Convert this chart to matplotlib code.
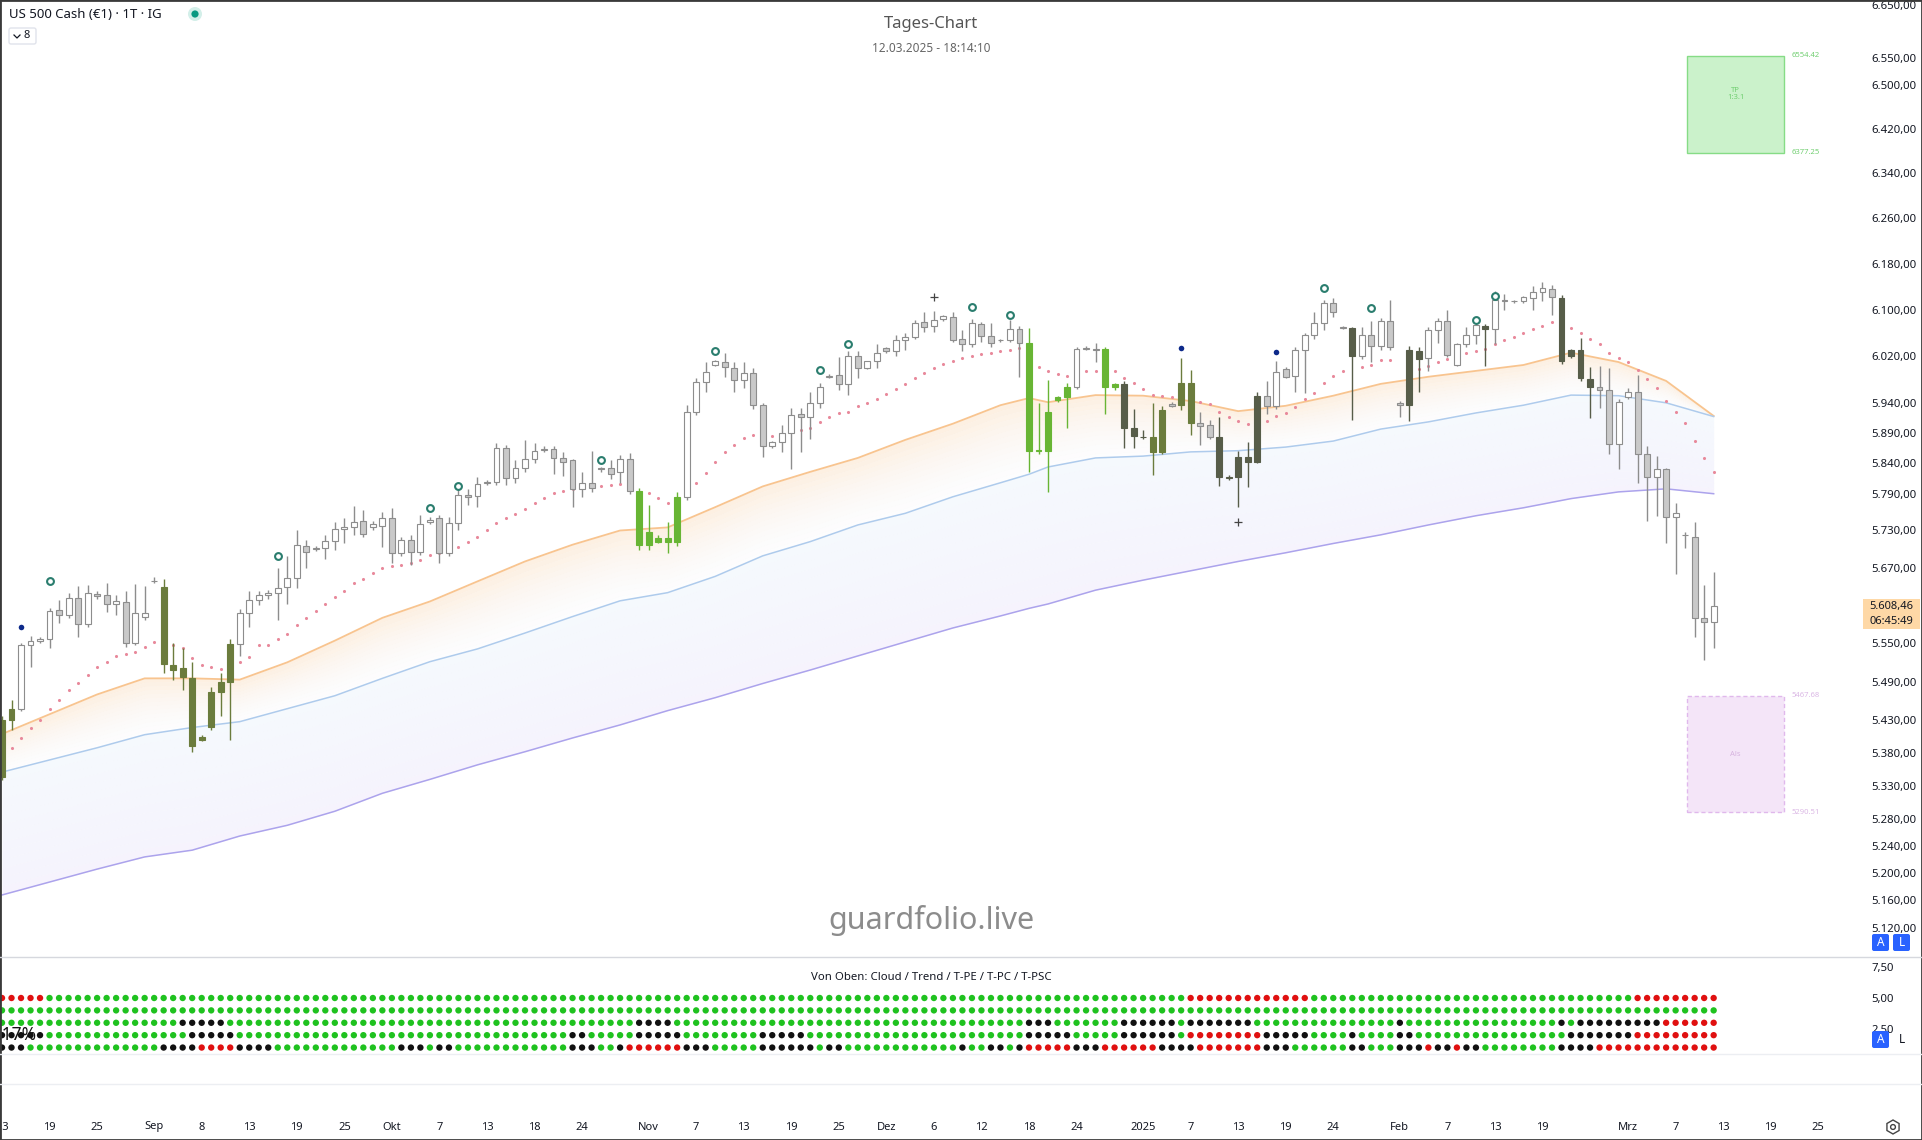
import numpy as np
import pandas as pd
import matplotlib
matplotlib.use('Agg')
import matplotlib.pyplot as plt
from matplotlib.patches import Rectangle, FancyBboxPatch, RegularPolygon, Circle
from matplotlib.lines import Line2D
from matplotlib.ticker import FixedLocator, NullLocator, FuncFormatter, NullFormatter
from matplotlib.transforms import IdentityTransform

plt.rcParams['font.family'] = ['Noto Sans', 'DejaVu Sans']

W, H = 1922, 1140

# --- daily candles, 13.08.2024 .. 12.03.2025 (bars Sun-Fri) ---
opens = [5344, 5430, 5447, 5547, 5553, 5556, 5603, 5595, 5621, 5581,
         5628, 5627, 5612, 5615, 5550, 5592, 5648, 5639, 5516, 5511,
         5496, 5400, 5420, 5474, 5489, 5548, 5598, 5619, 5627, 5629,
         5639, 5653, 5705, 5700, 5702, 5713, 5732, 5735, 5745, 5735,
         5737, 5750, 5694, 5715, 5696, 5744, 5750, 5694, 5742, 5788,
         5786, 5808, 5810, 5866, 5816, 5833, 5848, 5862, 5864, 5849,
         5845, 5797, 5808, 5832, 5833, 5825, 5848, 5795, 5707, 5718,
         5718, 5712, 5785, 5925, 5976, 6005, 6010, 6000, 5980, 5992,
         5937, 5868, 5875, 5891, 5922, 5917, 5941, 5985, 5988, 5973,
         6021, 6000, 6011, 6034, 6028, 6048, 6053, 6079, 6071, 6083,
         6088, 6050, 6040, 6075, 6055, 6048, 6048, 6066, 6043, 5862,
         5861, 5945, 5951, 5968, 6033, 6033, 6033, 5968, 5973, 5899,
         5883, 5883, 5858, 5939, 5937, 5975, 5907, 5904, 5884, 5818,
         5818, 5851, 5843, 5953, 5935, 5998, 5987, 6031, 6057, 6077,
         6112, 6070, 6069, 6020, 6057, 6038, 6081, 5940, 5938, 6015,
         6017, 6064, 6080, 6005, 6040, 6057, 6072, 6066, 6116, 6115,
         6114, 6120, 6130, 6135, 6120, 6030, 6031, 5982, 5968, 5962,
         5872, 5951, 5960, 5855, 5818, 5831, 5752, 5722, 5719, 5590,
         5584]
highs = [5437, 5462, 5550, 5561, 5560, 5606, 5619, 5630, 5641, 5643,
         5632, 5645, 5627, 5632, 5644, 5640, 5655, 5652, 5550, 5543,
         5521, 5407, 5481, 5504, 5557, 5604, 5632, 5633, 5635, 5669,
         5688, 5731, 5715, 5705, 5723, 5744, 5750, 5770, 5763, 5745,
         5760, 5767, 5720, 5723, 5755, 5752, 5755, 5752, 5797, 5797,
         5818, 5812, 5874, 5871, 5846, 5879, 5874, 5868, 5869, 5858,
         5848, 5826, 5861, 5834, 5846, 5854, 5857, 5800, 5771, 5722,
         5744, 5793, 5937, 5983, 6010, 6014, 6026, 6010, 6010, 6000,
         5941, 5877, 5903, 5933, 5933, 5960, 5975, 5990, 6019, 6028,
         6028, 6012, 6040, 6036, 6056, 6060, 6082, 6095, 6098, 6090,
         6095, 6065, 6084, 6079, 6077, 6050, 6082, 6072, 6068, 5940,
         5980, 5953, 5975, 6035, 6037, 6043, 6036, 5975, 5977, 5930,
         5895, 5941, 5935, 5942, 6017, 5997, 5925, 5912, 5917, 5820,
         5860, 5876, 5960, 5977, 6012, 6001, 6035, 6060, 6095, 6117,
         6120, 6072, 6070, 6070, 6081, 6085, 6117, 5944, 6038, 6036,
         6070, 6085, 6100, 6043, 6070, 6077, 6075, 6133, 6127, 6117,
         6124, 6140, 6147, 6142, 6125, 6033, 6051, 6002, 6003, 6000,
         5947, 5966, 5988, 5869, 5853, 5833, 5775, 5728, 5744, 5643,
         5663]
lows = [5339, 5415, 5444, 5512, 5550, 5543, 5582, 5590, 5560, 5575,
        5620, 5600, 5595, 5544, 5547, 5587, 5645, 5504, 5493, 5477,
        5382, 5398, 5415, 5436, 5400, 5530, 5576, 5610, 5620, 5587,
        5612, 5637, 5670, 5697, 5684, 5699, 5710, 5722, 5720, 5730,
        5703, 5678, 5688, 5675, 5690, 5740, 5678, 5688, 5730, 5772,
        5768, 5805, 5805, 5805, 5808, 5826, 5840, 5858, 5822, 5819,
        5768, 5785, 5793, 5826, 5815, 5808, 5790, 5699, 5699, 5710,
        5694, 5705, 5780, 5920, 5960, 6003, 5985, 5960, 5966, 5930,
        5851, 5866, 5859, 5830, 5858, 5880, 5933, 5983, 5962, 5955,
        5983, 5998, 6000, 6026, 6020, 6031, 6050, 6061, 6061, 6081,
        6045, 6028, 6035, 6044, 6035, 6045, 6045, 5985, 5826, 5855,
        5793, 5943, 5898, 5965, 6030, 6010, 5922, 5962, 5865, 5865,
        5880, 5821, 5855, 5934, 5929, 5887, 5870, 5880, 5802, 5813,
        5768, 5801, 5840, 5922, 5930, 5983, 5960, 5958, 6050, 6065,
        6088, 6067, 5912, 6015, 6010, 6030, 6030, 5917, 5910, 5960,
        5995, 6043, 6018, 6003, 6035, 6040, 6004, 6040, 6100, 6112,
        6112, 6100, 6114, 6090, 6006, 6017, 5978, 5915, 5932, 5856,
        5830, 5948, 5807, 5745, 5753, 5710, 5660, 5702, 5560, 5524,
        5543]
closes = [5431, 5447, 5547, 5553, 5556, 5601, 5595, 5621, 5581, 5630,
          5625, 5612, 5617, 5550, 5597, 5597, 5649, 5518, 5508, 5497,
          5391, 5404, 5474, 5489, 5548, 5598, 5619, 5627, 5629, 5638,
          5653, 5707, 5696, 5702, 5713, 5732, 5735, 5744, 5725, 5740,
          5750, 5694, 5715, 5696, 5741, 5747, 5694, 5742, 5788, 5785,
          5806, 5810, 5866, 5816, 5833, 5848, 5861, 5864, 5849, 5843,
          5797, 5808, 5800, 5830, 5823, 5848, 5795, 5707, 5727, 5712,
          5712, 5785, 5925, 5976, 5993, 6012, 6002, 5980, 5992, 5937,
          5868, 5875, 5891, 5921, 5917, 5941, 5968, 5987, 5973, 6021,
          6000, 6011, 6026, 6028, 6048, 6053, 6077, 6070, 6082, 6089,
          6048, 6040, 6077, 6055, 6043, 6047, 6067, 6043, 5861, 5860,
          5925, 5950, 5968, 6033, 6034, 6031, 5968, 5973, 5899, 5885,
          5884, 5858, 5929, 5936, 5975, 5907, 5902, 5884, 5818, 5816,
          5851, 5843, 5953, 5935, 5993, 5985, 6031, 6057, 6077, 6112,
          6095, 6069, 6020, 6057, 6038, 6081, 6035, 5938, 6030, 6029,
          6064, 6080, 6022, 6040, 6057, 6073, 6066, 6117, 6114, 6114,
          6121, 6130, 6137, 6121, 6011, 6021, 5983, 5968, 5963, 5872,
          5943, 5960, 5855, 5817, 5830, 5752, 5759, 5723, 5590, 5584,
          5608.46]

# bar colouring of the indicator: n = normal (hollow up / grey down)
candle_color_runs = [('o', 2), ('n', 15), ('o', 8), ('n', 42), ('G', 5), ('n', 36),
                     ('G', 5), ('n', 3), ('G', 2), ('d', 3), ('o', 2), ('n', 1),
                     ('o', 2), ('n', 2), ('d', 5), ('n', 9), ('d', 1), ('n', 5),
                     ('d', 2), ('n', 6), ('d', 1), ('n', 7), ('d', 4), ('n', 13)]

# moving averages, read at these bars
ema_idx = [0, 10, 15, 20, 25, 30, 35, 40, 45, 50, 55, 60, 65, 70, 75, 80, 85, 90, 95, 100,
           105, 108, 110, 115, 120, 125, 130, 135, 140, 145, 150, 155, 160, 165, 170, 175, 180]
ema_fast = [5409, 5470, 5495, 5495, 5493, 5520, 5554, 5590, 5616, 5648, 5680, 5707, 5730, 5735,
            5768, 5802, 5826, 5849, 5879, 5906, 5937, 5949, 5942, 5954, 5953, 5944, 5927, 5936,
            5953, 5973, 5985, 5995, 6005, 6026, 6010, 5978, 5919]
ema_mid = [5351, 5388, 5408, 5419, 5428, 5448, 5468, 5495, 5521, 5541, 5566, 5592, 5617, 5630,
           5656, 5689, 5712, 5739, 5758, 5785, 5808, 5822, 5834, 5849, 5852, 5859, 5861, 5867,
           5877, 5897, 5909, 5924, 5937, 5954, 5953, 5941, 5918]
ema_slow = [5168, 5206, 5224, 5234, 5255, 5271, 5292, 5319, 5340, 5362, 5382, 5403, 5423, 5445,
            5465, 5487, 5508, 5530, 5552, 5574, 5593, 5605, 5612, 5634, 5650, 5665, 5680, 5694,
            5709, 5723, 5739, 5754, 5767, 5782, 5793, 5798, 5790]

# trailing stop dots
sar_idx = [1, 2, 3, 4, 5, 6, 7, 8, 9, 10, 11, 12, 13, 14, 15, 16,
           18, 19, 20, 21, 22, 23,
           25, 26, 27, 28, 29, 30, 31, 32, 33, 34, 35, 36, 37, 38, 39, 40, 41, 42, 43, 44, 45,
           46, 47, 48, 49, 50, 51, 52, 53, 54, 55, 56, 57, 58, 59, 60, 61, 62, 63, 64, 65, 66,
           68, 69, 70,
           73, 74, 75, 76, 77, 78, 79, 80, 81, 82, 83, 84, 85, 86, 87, 88, 89, 90, 91, 92, 93,
           94, 95, 96, 97, 98, 99, 100, 101, 102, 103, 104, 105, 106, 107,
           109, 110, 111, 112, 114, 115,
           117, 118, 119, 120, 121, 122, 123, 126, 127, 128, 129, 130, 131,
           133, 134, 135, 136, 137, 138, 139, 140, 141, 143, 144, 145, 146,
           148, 149, 150, 151, 152, 153, 154, 155, 156, 157, 158, 159, 160, 161, 162, 163,
           165, 166, 167, 168, 169, 170, 171, 172, 173, 174, 175, 176, 177, 178, 179, 180]
sar_val = [5388, 5403, 5418, 5431, 5448, 5462, 5477, 5487, 5501, 5512, 5521, 5530, 5533, 5536, 5544, 5552,
           5547, 5542, 5527, 5516, 5512, 5510,
           5521, 5529, 5547, 5547, 5557, 5565, 5579, 5590, 5601, 5612, 5623, 5632, 5645, 5652, 5661,
           5669, 5672, 5675, 5677, 5683, 5690,
           5694, 5697, 5704, 5712, 5720, 5730, 5742, 5750, 5757, 5765, 5775, 5783, 5791, 5794, 5797,
           5801, 5802, 5803, 5804, 5806, 5808,
           5791, 5783, 5775,
           5808, 5824, 5842, 5859, 5870, 5882, 5887, 5884, 5885, 5889, 5892, 5896, 5899, 5909, 5917,
           5924, 5925, 5935, 5941, 5948, 5956,
           5964, 5973, 5983, 5992, 6000, 6007, 6012, 6017, 6021, 6024, 6026, 6028, 6031, 6034,
           6002, 5994, 5990, 5987, 5995, 5995,
           5994, 5983, 5975, 5964, 5954, 5953, 5951, 5943, 5939, 5926, 5918, 5911, 5906,
           5911, 5919, 5924, 5934, 5948, 5958, 5975, 5987, 5995, 6002, 6005, 6014, 6014,
           5993, 5998, 6004, 6010, 6015, 6020, 6026, 6029, 6033, 6040, 6047, 6052, 6059, 6066, 6072, 6079,
           6068, 6059, 6050, 6041, 6026, 6017, 6010, 5997, 5982, 5966, 5944, 5926, 5907, 5877, 5849, 5826]

ring_idx = [5, 29, 45, 48, 63, 75, 86, 89, 102, 106, 139, 144, 155, 157]
ring_val = [5648, 5688, 5767, 5803, 5846, 6029, 5997, 6041, 6105, 6091, 6138, 6102, 6082, 6124]
blue_idx = [2, 124, 134]
blue_val = [5576, 6034, 6027]
cross_idx = [98, 130]
cross_val = [6121, 5744]

tp_levels = (6377.25, 6554.42)
sl_levels = (5290.51, 5467.68)

price_ticks = [6650, 6550, 6500, 6420, 6340, 6260, 6180, 6100, 6020, 5940, 5890, 5840, 5790,
               5730, 5670, 5550, 5490, 5430, 5380, 5330, 5280, 5240, 5200, 5160, 5120]

# indicator rows (top to bottom): Cloud / Trend / T-PE / T-PC / T-PSC
cloud_runs = [('r', 5), ('g', 120), ('r', 13), ('g', 34), ('r', 9)]
trend_runs = [('g', 181)]
tpe_runs = [('g', 19), ('k', 5), ('g', 43), ('k', 4), ('g', 37), ('k', 3), ('g', 7), ('k', 6),
            ('g', 1), ('k', 7), ('g', 15), ('k', 1), ('g', 16), ('k', 1), ('g', 1), ('k', 9), ('r', 6)]
tpc_runs = [('k', 5), ('g', 15), ('k', 5), ('g', 35), ('k', 2), ('g', 5), ('k', 5), ('g', 8),
            ('k', 5), ('g', 23), ('k', 5), ('g', 5), ('k', 6), ('g', 1), ('r', 8), ('k', 5),
            ('g', 4), ('k', 1), ('g', 4), ('k', 2), ('g', 16), ('k', 7), ('r', 9)]
tpsc_runs = [('k', 3), ('g', 14), ('k', 4), ('r', 4), ('k', 4), ('g', 13), ('k', 3), ('g', 1),
             ('k', 2), ('g', 12), ('k', 3), ('g', 2), ('k', 1), ('r', 6), ('k', 3), ('g', 5),
             ('k', 6), ('g', 1), ('k', 2), ('g', 12), ('k', 1), ('g', 2), ('k', 2), ('g', 1),
             ('k', 1), ('r', 5), ('k', 3), ('r', 6), ('k', 4), ('r', 7), ('k', 3), ('g', 6),
             ('k', 2), ('g', 3), ('k', 3), ('r', 1), ('k', 2), ('r', 1), ('k', 2), ('g', 8),
             ('k', 4), ('r', 13)]

tick_dates = ['2024-08-13', '2024-08-19', '2024-08-25', '2024-09-02', '2024-09-08', '2024-09-13',
              '2024-09-19', '2024-09-25', '2024-10-01', '2024-10-07', '2024-10-13', '2024-10-18',
              '2024-10-24', '2024-11-01', '2024-11-07', '2024-11-13', '2024-11-19', '2024-11-25',
              '2024-12-01', '2024-12-06', '2024-12-12', '2024-12-18', '2024-12-24', '2025-01-01',
              '2025-01-07', '2025-01-13', '2025-01-19', '2025-01-24', '2025-02-02', '2025-02-07',
              '2025-02-13', '2025-02-19', '2025-03-02', '2025-03-07', '2025-03-13', '2025-03-19',
              '2025-03-25']
tick_labels = ['13', '19', '25', 'Sep', '8', '13', '19', '25', 'Okt', '7', '13', '18', '24', 'Nov',
               '7', '13', '19', '25', 'Dez', '6', '12', '18', '24', '2025', '7', '13', '19', '24',
               'Feb', '7', '13', '19', 'Mrz', '7', '13', '19', '25']


def expand(runs):
    return ''.join(c * n for c, n in runs)


def de_fmt(v):
    s = f"{v:,.2f}"
    return s.replace(',', 'X').replace('.', ',').replace('X', '.')


def fx(px):
    return px / W


def fy(py):
    return 1 - py / H


def gradient_band(axis, x, upper, lower, color_top, color_bottom, a_top, a_bottom, steps=14):
    # soft band between two lines, shaded from the upper line down
    up = np.array(upper, float)
    lo = np.array(lower, float)
    ct = np.array(matplotlib.colors.to_rgb(color_top))
    cb = np.array(matplotlib.colors.to_rgb(color_bottom))
    for k in range(steps):
        t0, t1 = k / steps, (k + 1) / steps
        tm = (t0 + t1) / 2
        axis.fill_between(x, up + (lo - up) * t0, up + (lo - up) * t1,
                          color=ct + (cb - ct) * tm, alpha=a_top + (a_bottom - a_top) * tm,
                          lw=0, zorder=1)


# bars of the chart: every day except Saturday, 01.09.2024 missing
days = pd.date_range('2024-08-13', '2025-03-31')
days = days[(days.dayofweek != 5) & (days != pd.Timestamp('2024-09-01'))]
n = len(opens)
xs = np.arange(n)
xlim = (-0.21, 195.6)

fig = plt.figure(figsize=(W / 100, H / 100), dpi=100)
fig.patch.set_facecolor('white')

# --- main price pane ---
ax = fig.add_axes([0, fy(957), 1862 / W, 957 / H])
ax.set_yscale('log')
ax.set_ylim(5078, 6659)
ax.set_xlim(*xlim)

gradient_band(ax, ema_idx, ema_fast, ema_mid, '#fbdcbc', '#f3f6fc', 0.45, 0.15)
gradient_band(ax, ema_idx, ema_mid, ema_slow, '#e4eefb', '#ebe6fb', 0.35, 0.45)
ax.plot(ema_idx, ema_fast, color='#f8c48f', lw=1.3, zorder=2)
ax.plot(ema_idx, ema_mid, color='#aecbec', lw=1.1, zorder=2)
ax.plot(ema_idx, ema_slow, color='#aca3ec', lw=1.1, zorder=2)

ax.scatter(sar_idx, sar_val, s=5, color='#e8899b', lw=0, zorder=2.5)

special = {'o': '#6b7c3d', 'G': '#68b534', 'd': '#575d49'}
codes = expand(candle_color_runs)
for i in range(n):
    o, h, l, c = opens[i], highs[i], lows[i], closes[i]
    code = codes[i]
    if code == 'n':
        face = '#ffffff' if c >= o else '#c9c9c9'
        edge = '#8d8d8d'
    else:
        face = special[code]
        edge = special[code]
    ax.vlines(i, l, h, color=edge, lw=1, zorder=3)
    ax.bar(i, max(abs(c - o), 0.6), bottom=min(o, c), width=0.62, color=face,
           edgecolor=edge, lw=0.8, zorder=4)

ax.scatter(ring_idx, ring_val, s=24, facecolors='white', edgecolors='#2a7d6e', linewidths=1.5, zorder=5)
ax.scatter(blue_idx, blue_val, s=16, color='#0d2a8a', lw=0, zorder=5)
ax.scatter(cross_idx, cross_val, s=30, marker='+', color='#444444', lw=0.9, zorder=5)

# TP / SL boxes
bx0, bx1 = 177.2, 187.4
ax.add_patch(Rectangle((bx0, tp_levels[0]), bx1 - bx0, tp_levels[1] - tp_levels[0],
                       facecolor='#cbf2cb', edgecolor='#86dc86', lw=1, zorder=2))
ax.text((bx0 + bx1) / 2, (tp_levels[0] * tp_levels[1]) ** 0.5 * 1.003, 'TP\n1:3.1', ha='center',
        va='center', fontsize=5.5, color='#72cf72', linespacing=1.0)
ax.text(bx1 + 0.8, tp_levels[1], f'{tp_levels[1]:.2f}', fontsize=5.5, color='#72cf72', va='center')
ax.text(bx1 + 0.8, tp_levels[0], f'{tp_levels[0]:.2f}', fontsize=5.5, color='#72cf72', va='center')
ax.add_patch(Rectangle((bx0, sl_levels[0]), bx1 - bx0, sl_levels[1] - sl_levels[0],
                       facecolor='#f4e5f8', edgecolor='#e0b8ec', lw=1, ls=(0, (3, 2)), zorder=2))
ax.text((bx0 + bx1) / 2, (sl_levels[0] * sl_levels[1]) ** 0.5, 'Als', ha='center', va='center',
        fontsize=5.5, color='#d7b4e0')
ax.text(bx1 + 0.8, sl_levels[1], f'{sl_levels[1]:.2f}', fontsize=5.5, color='#dbb8e5', va='center')
ax.text(bx1 + 0.8, sl_levels[0], f'{sl_levels[0]:.2f}', fontsize=5.5, color='#dbb8e5', va='center')

ax.yaxis.tick_right()
ax.yaxis.set_major_locator(FixedLocator(price_ticks))
ax.yaxis.set_major_formatter(FuncFormatter(lambda v, p: de_fmt(v)))
ax.yaxis.set_minor_locator(NullLocator())
ax.yaxis.set_minor_formatter(NullFormatter())
ax.tick_params(axis='y', length=0, pad=7, labelsize=8.2, labelcolor='#131722')
ax.set_xticks([])
for sp in ax.spines.values():
    sp.set_visible(False)

# --- indicator pane ---
ax2 = fig.add_axes([0, fy(1054), 1862 / W, 97 / H])
ax2.set_xlim(*xlim)
ax2.set_ylim(0.48, 8.31)
dot_colors = {'g': '#1fc21f', 'r': '#e01010', 'k': '#111111'}
for level, runs in zip([5, 4, 3, 2, 1], [cloud_runs, trend_runs, tpe_runs, tpc_runs, tpsc_runs]):
    cols = [dot_colors[c] for c in expand(runs)]
    ax2.scatter(xs, np.full(n, level), s=21, c=cols, lw=0, zorder=3)
ax2.yaxis.tick_right()
ax2.set_yticks([7.5, 5.0, 2.5])
ax2.set_yticklabels(['7,50', '5,00', '2,50'])
ax2.tick_params(axis='y', length=0, pad=7, labelsize=8.2, labelcolor='#131722')
ax2.set_xticks([])
for sp in ax2.spines.values():
    sp.set_visible(False)
fig.text(fx(931), fy(977), 'Von Oben: Cloud / Trend / T-PE / T-PC / T-PSC', ha='center',
         va='center', fontsize=8.2, color='#131722')
fig.text(fx(36), fy(1035), '0.17%', ha='right', va='center', fontsize=12.5,
         fontweight='bold', color='#111111', zorder=6)

# --- time axis ---
ax3 = fig.add_axes([0, fy(1140), 1862 / W, 26 / H])
ax3.set_xlim(*xlim)
ax3.set_ylim(0, 1)
ax3.axis('off')
for d, lab in zip(tick_dates, tick_labels):
    pos = days.get_loc(pd.Timestamp(d))
    ax3.text(pos, 0.5, lab, ha='center', va='center', fontsize=8, color='#131722',
             fontweight='bold' if lab == '2025' else 'normal')

# pane separators
for yy, col in [(957, '#d6d8de'), (1054, '#eceef2'), (1084, '#eceef2')]:
    fig.add_artist(Line2D([0, 1], [fy(yy), fy(yy)], color=col, lw=1))

# --- header and captions ---
fig.text(fx(9), fy(14), 'US 500 Cash (€1) · 1T · IG', ha='left', va='center', fontsize=9.5, color='#131722')
fig.add_artist(Circle((195, H - 14), 7, transform=IdentityTransform(), color='#d3efe9', lw=0))
fig.add_artist(Circle((195, H - 14), 3.6, transform=IdentityTransform(), color='#089981', lw=0))
fig.add_artist(FancyBboxPatch((9, H - 44), 27, 16, boxstyle='round,pad=0,rounding_size=2',
                              transform=IdentityTransform(), facecolor='white', edgecolor='#e0e3eb', lw=1))
fig.add_artist(Line2D([14, 17, 20], [H - 35, H - 38, H - 35], transform=IdentityTransform(),
                      color='#131722', lw=0.9))
fig.text(fx(24), fy(36), '8', ha='left', va='center', fontsize=8, color='#131722')

fig.text(fx(931), fy(24), 'Tages-Chart', ha='center', va='center', fontsize=12, color='#555555')
fig.text(fx(931), fy(49), '12.03.2025 - 18:14:10', ha='center', va='center', fontsize=8.5, color='#666666')
fig.text(fx(931), fy(921), 'guardfolio.live', ha='center', va='center', fontsize=22, color='#8c8c8c')

# current price label
fig.add_artist(Rectangle((1863, H - 629), 57, 30, transform=IdentityTransform(),
                         facecolor='#fed8a6', edgecolor='none'))
fig.text(fx(1891), fy(607), de_fmt(closes[-1]), ha='center', va='center', fontsize=8, color='#131722')
fig.text(fx(1891), fy(621), '06:45:49', ha='center', va='center', fontsize=8, color='#131722')

# scale buttons
for x0, y0, face, tcol, lab in [(1872, 934, '#2962ff', 'white', 'A'), (1893, 934, '#2962ff', 'white', 'L'),
                                (1872, 1031, '#2962ff', 'white', 'A'), (1893, 1031, 'white', '#131722', 'L')]:
    fig.add_artist(FancyBboxPatch((x0, H - y0 - 17), 17, 17, boxstyle='round,pad=0,rounding_size=2',
                                  transform=IdentityTransform(), facecolor=face, edgecolor='none'))
    fig.text(fx(x0 + 8.5), fy(y0 + 8.5), lab, ha='center', va='center', fontsize=8.5, color=tcol)

# settings icon
fig.add_artist(RegularPolygon((1893, H - 1127), 6, radius=7, transform=IdentityTransform(),
                              fill=False, edgecolor='#444444', lw=1))
fig.add_artist(Circle((1893, H - 1127), 2.4, transform=IdentityTransform(), fill=False,
                      edgecolor='#444444', lw=1))

# outer frame
fig.add_artist(Rectangle((0, 0), 1, 1, transform=fig.transFigure, fill=False,
                         edgecolor='#3a3a3a', lw=2))

fig.savefig('out.png', dpi=100, facecolor='white')
